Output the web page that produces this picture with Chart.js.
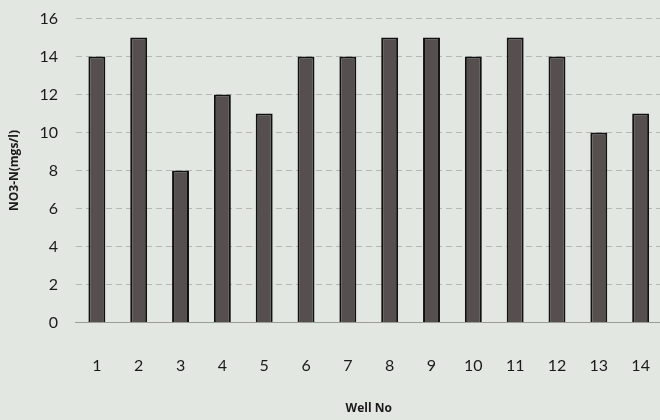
<!DOCTYPE html>
<html>
<head>
<meta charset="utf-8">
<script src="https://cdn.jsdelivr.net/npm/chart.js@4/dist/chart.umd.min.js"></script>
<style>
  html, body { margin: 0; padding: 0; background: #e3e7e2; overflow: hidden; }
  #wrap { position: relative; width: 660px; height: 420px; overflow: hidden; }
  /* the scan crops the right edge of the plot, so the canvas runs past the frame */
  #nitrateChart { position: absolute; left: -2px; top: -9px; display: block; }
</style>
</head>
<body>
<div id="wrap"><canvas id="nitrateChart" width="678" height="440"></canvas></div>
<script>
  // well numbers and nitrate readings
  var wells = ['1', '2', '3', '4', '5', '6', '7', '8', '9', '10', '11', '12', '13', '14'];
  var no3n = [14, 15, 8, 12, 11, 14, 14, 15, 15, 14, 15, 14, 10, 11];
  var yTicks = [0, 2, 4, 6, 8, 10, 12, 14, 16];

  var barColors = ['#55504e'];

  const ctx = document.getElementById('nitrateChart').getContext('2d');

  new Chart(ctx, {
    type: 'bar',
    data: {
      labels: wells,
      datasets: [{
        label: 'NO3-N',
        data: no3n,
        backgroundColor: barColors,
        borderColor: '#111111',
        borderWidth: 2,
        barPercentage: 0.81,
        categoryPercentage: 0.5
      }]
    },
    options: {
      responsive: false,
      animation: false,
      layout: { padding: { top: 10, left: 0, right: 2, bottom: 11 } },
      plugins: { legend: { display: false }, tooltip: { enabled: false } },
      scales: {
        x: {
          grid: { display: false },
          border: { color: '#9a9c98', width: 1 },
          ticks: { color: '#1a1a1a', padding: 26, font: { family: 'Lato', size: 16 } },
          title: { display: true, text: 'Well No', color: '#1a1a1a', padding: { top: 0 },
                   font: { family: 'Open Sans', size: 12, weight: 'bold' } }
        },
        y: {
          min: 0,
          max: 16,
          afterBuildTicks: function (axis) { axis.ticks = yTicks.map(v => ({ value: v })); },
          grid: { color: '#b5b8b3', lineWidth: 1, drawTicks: false },
          border: { display: false, dash: [6, 4] },
          ticks: { color: '#1a1a1a', padding: 18, font: { family: 'Lato', size: 16 } },
          title: { display: true, text: 'NO3-N(mgs/l)', color: '#1a1a1a', padding: { top: 9, bottom: 0 },
                   font: { family: 'Open Sans', size: 12, weight: 'bold' } }
        }
      }
    }
  });
</script>
</body>
</html>
